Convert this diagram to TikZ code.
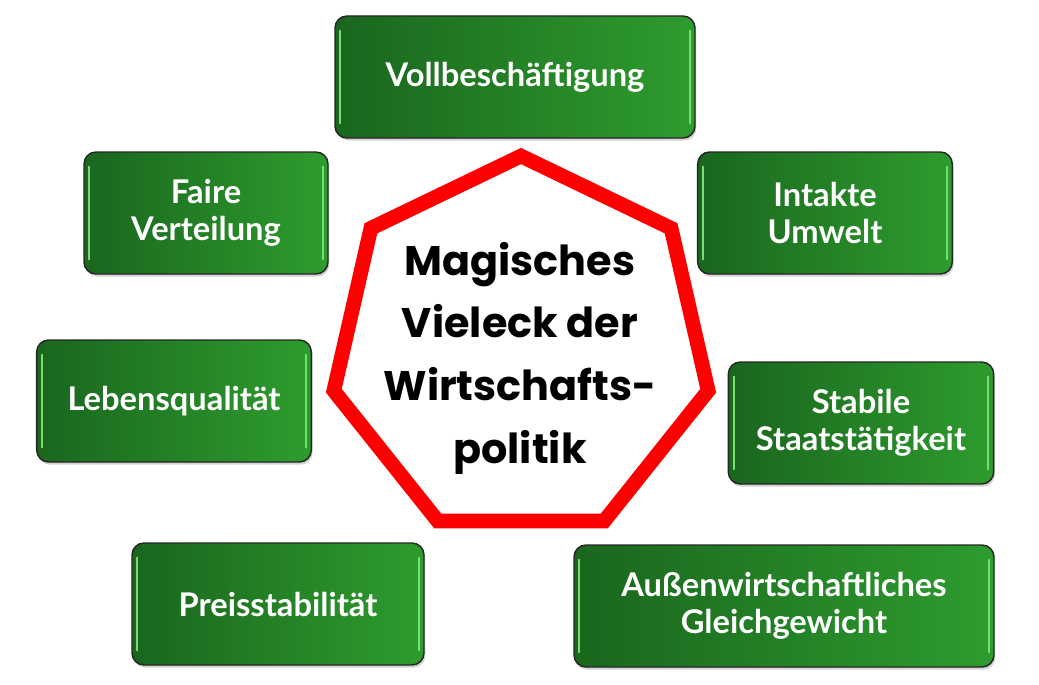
\documentclass[tikz,border=0pt]{standalone}
\usepackage{fontspec}
\setmainfont{Lato}
\newfontfamily\titelfont{Poppins}
\usetikzlibrary{shapes.geometric, shadows, calc}

\definecolor{boxdark}{RGB}{26,102,30}
\definecolor{boxlight}{RGB}{46,156,46}
\definecolor{glanz}{RGB}{120,220,110}

\begin{document}
\begin{tikzpicture}[
        x=0.75pt, y=-0.75pt,
        ziel/.style={rectangle, rounded corners=9pt, draw=black!85, line width=1.1pt,
            left color=boxdark, right color=boxlight, text=white, align=center,
            minimum height=91.5pt, font=\bfseries\fontsize{24.5}{28}\selectfont,
            drop shadow={opacity=0.35, shadow xshift=1pt, shadow yshift=-2pt},
            path picture={
                \draw[glanz, line width=1.4pt, line cap=round]
                    ($(path picture bounding box.north west)+(4pt,-11pt)$) --
                    ($(path picture bounding box.south west)+(4pt,11pt)$);
                \draw[glanz, line width=1.4pt, line cap=round]
                    ($(path picture bounding box.north east)+(-4pt,-11pt)$) --
                    ($(path picture bounding box.south east)+(-4pt,11pt)$);
            }},
        eck/.style={regular polygon, regular polygon sides=7, draw=red, fill=white,
            line width=11pt, minimum size=288pt, inner sep=0pt}
    ]
    \useasboundingbox (0,0) rectangle (1039,685);

    % Mitte
    \node (vieleck) [eck] at (521,348) {};
    \node (titel) [align=center, font=\titelfont\bfseries\fontsize{31}{47}\selectfont]
        at (520,358) {Magisches\\Vieleck der\\Wirtschafts-\\politik};

    % Ziele
    \node (voll) [ziel, minimum width=270pt] at (515,77) {Vollbeschäftigung};
    \node (faire) [ziel, minimum width=183pt] at (206,213) {Faire\\Verteilung};
    \node (umwelt) [ziel, minimum width=191pt] at (825,213) {Intakte\\Umwelt};
    \node (leben) [ziel, minimum width=206pt] at (174,401) {Lebensqualität};
    \node (staat) [ziel, minimum width=199pt] at (861,423) {Stabile\\Staatstätigkeit};
    \node (preis) [ziel, minimum width=219pt] at (278,604) {Preisstabilität};
    \node (aussen) [ziel, minimum width=315pt] at (784,606) {Außenwirtschaftliches\\Gleichgewicht};

\end{tikzpicture}
\end{document}
